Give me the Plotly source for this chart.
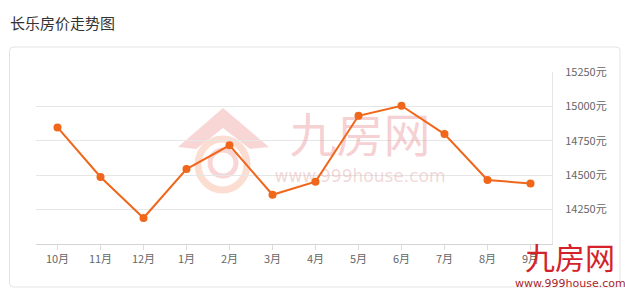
import plotly.graph_objects as go

# ---- data ----
months = ["10月", "11月", "12月", "1月", "2月", "3月", "4月", "5月", "6月", "7月", "8月", "9月"]
prices = [14847, 14487, 14189, 14545, 14717, 14358, 14453, 14932, 15005, 14799, 14465, 14440]
y_ticks = [14250, 14500, 14750, 15000, 15250]
y_tick_labels = [f"{v}元" for v in y_ticks]
title_text = "长乐房价走势图"
wm_cn = "九房网"
wm_url = "www.999house.com"

# ---- layout geometry (pixels) ----
W, H = 625, 290
L, R, T, B = 36, 73, 72, 46
PW, PH = W - L - R, H - T - B
Y0, Y1 = 14000, 15250
n = len(months)

def px(x):  # pixel x -> paper
    return (x - L) / PW

def py(y):  # pixel y -> paper
    return (H - B - y) / PH

def dx(x):  # pixel x -> data x
    return (x - L) / PW * n - 0.5

def dy(y):  # pixel y -> data y
    return Y0 + (H - B - y) / PH * (Y1 - Y0)

xs = list(range(n))
FONT = "Noto Sans CJK SC"

fig = go.Figure()

# faint central watermark text (below the line)
fig.add_trace(go.Scatter(
    x=[dx(360)], y=[dy(140)], mode="text", text=[wm_cn],
    textfont=dict(family=FONT, size=47, color="rgba(236,150,158,0.45)"),
    hoverinfo="skip", showlegend=False))
fig.add_trace(go.Scatter(
    x=[dx(360)], y=[dy(178)], mode="text", text=[wm_url],
    textfont=dict(family="DejaVu Sans", size=17, color="rgba(225,170,170,0.45)"),
    hoverinfo="skip", showlegend=False))

fig.add_trace(go.Scatter(
    x=xs, y=prices, mode="lines+markers",
    line=dict(color="#f0661a", width=2),
    marker=dict(color="#f0661a", size=8),
    showlegend=False, hoverinfo="skip"))

shapes = []
# outer panel box with rounded corners
x0, y0, x1, y1, r = 9.5, 47, 620, 287, 4
def P(x, y):
    return f"{px(x)},{py(y)}"
panel = (f"M {P(x0+r,y0)} L {P(x1-r,y0)} Q {P(x1,y0)} {P(x1,y0+r)} "
         f"L {P(x1,y1-r)} Q {P(x1,y1)} {P(x1-r,y1)} L {P(x0+r,y1)} "
         f"Q {P(x0,y1)} {P(x0,y1-r)} L {P(x0,y0+r)} Q {P(x0,y0)} {P(x0+r,y0)} Z")
shapes.append(dict(type="path", xref="paper", yref="paper", path=panel,
                   line=dict(color="#e3e3e3", width=1), layer="below"))

# house logo watermark
roof = f"M {P(178,147)} L {P(223,108)} L {P(269,147)} L {P(250,149)} L {P(223,128)} L {P(196,149)} Z"
shapes.append(dict(type="path", xref="paper", yref="paper", path=roof,
                   fillcolor="rgba(232,120,120,0.30)", line=dict(width=0), layer="between"))
shapes.append(dict(type="circle", xref="paper", yref="paper",
                   x0=px(198), x1=px(247), y0=py(139), y1=py(190),
                   line=dict(color="rgba(245,170,140,0.40)", width=7), layer="between"))
shapes.append(dict(type="circle", xref="paper", yref="paper",
                   x0=px(210), x1=px(236), y0=py(150), y1=py(176),
                   line=dict(color="rgba(232,120,120,0.30)", width=5), layer="between"))

annotations = [
    dict(text=title_text, xref="paper", yref="paper", x=px(8), y=py(23),
         xanchor="left", yanchor="middle", showarrow=False,
         font=dict(family=FONT, size=15, color="#333333")),
    dict(text=wm_cn, xref="paper", yref="paper", x=px(570), y=py(256),
         xanchor="center", yanchor="middle", showarrow=False,
         font=dict(family=FONT, size=30, color="#d4222b")),
    dict(text=wm_url, xref="paper", yref="paper", x=px(570), y=py(283),
         xanchor="center", yanchor="middle", showarrow=False,
         font=dict(family="DejaVu Sans", size=11, color="#a8262b")),
]

fig.update_layout(
    width=W, height=H, autosize=False,
    margin=dict(l=L, r=R, t=T, b=B, pad=0),
    paper_bgcolor="white", plot_bgcolor="white",
    shapes=shapes, annotations=annotations,
    xaxis=dict(range=[-0.5, n - 0.5], tickvals=xs, ticktext=months,
               showgrid=False, zeroline=False, showline=True,
               linecolor="#d4d4d4", linewidth=1,
               ticks="outside", ticklen=5, tickcolor="#dcdcdc",
               tickfont=dict(family=FONT, size=11, color="#666666"),
               fixedrange=True),
    yaxis=dict(range=[Y0, Y1], side="right", tickvals=y_ticks, ticktext=y_tick_labels,
               showgrid=True, gridcolor="#e6e6e6", gridwidth=1,
               zeroline=False, showline=True, linecolor="#e6e6e6",
               ticks="", ticklabelstandoff=10,
               tickfont=dict(family=FONT, size=11, color="#666666"),
               fixedrange=True),
)

fig.write_html("out.html", config={"displayModeBar": False})
